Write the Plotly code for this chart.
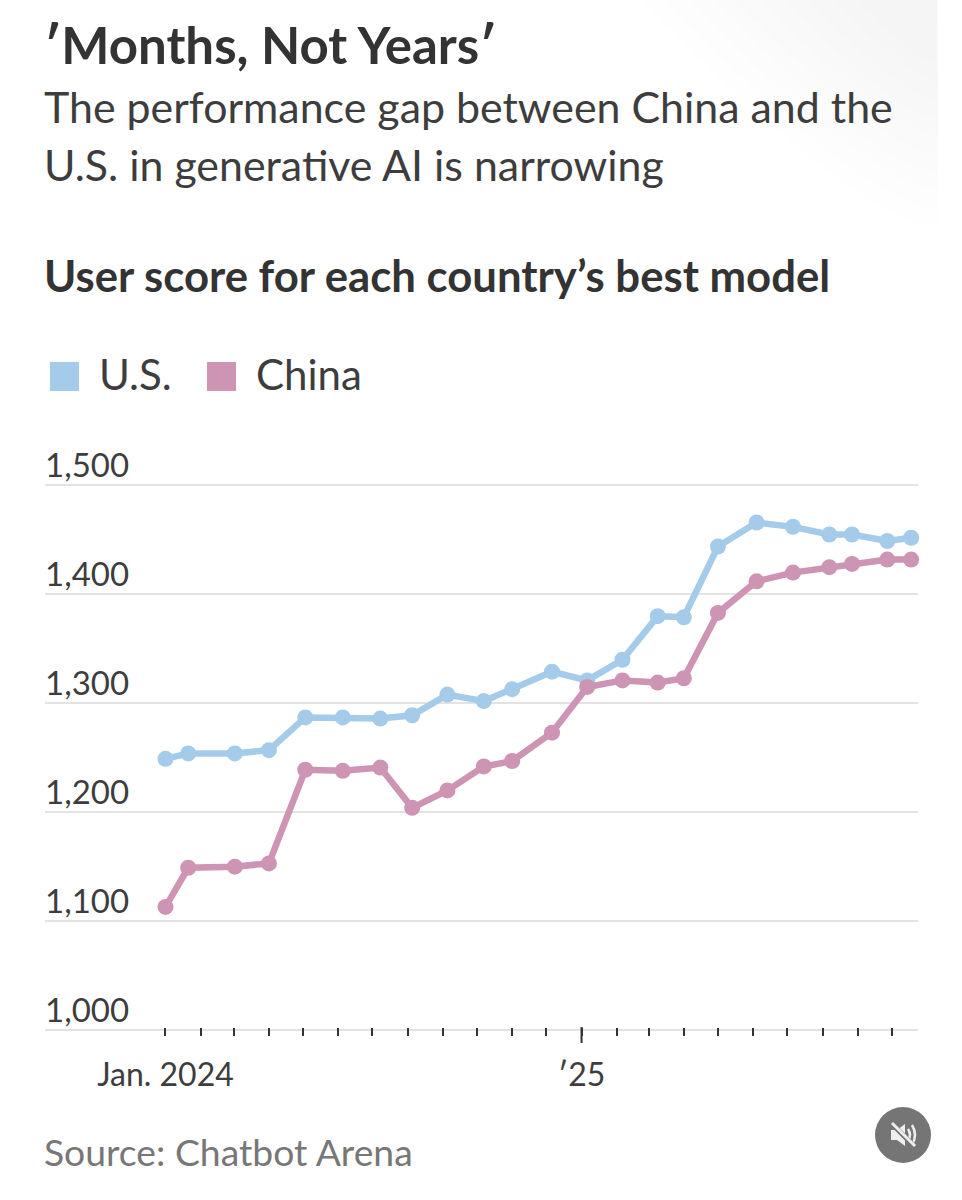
import plotly.graph_objects as go

W = 962
H = 1200
FONT = "Lato"

dates = ["2024-01-01", "2024-01-21", "2024-03-02", "2024-04-01", "2024-05-03", "2024-06-05",
         "2024-07-08", "2024-08-05", "2024-09-05", "2024-10-07", "2024-11-01", "2024-12-06",
         "2025-01-06", "2025-02-06", "2025-03-09", "2025-04-01", "2025-05-01", "2025-06-04",
         "2025-07-06", "2025-08-07", "2025-08-27", "2025-09-27", "2025-10-18"]
us = [1249, 1254, 1254, 1257, 1287, 1287, 1286, 1289, 1308, 1302, 1313, 1329,
      1321, 1340, 1380, 1379, 1444, 1466, 1462, 1455, 1455, 1449, 1452]
china = [1113, 1149, 1150, 1153, 1239, 1238, 1241, 1204, 1220, 1242, 1247, 1273,
         1315, 1321, 1319, 1323, 1383, 1412, 1420, 1425, 1428, 1432, 1432]

month_ticks = ["2024-%02d-01" % m for m in range(1, 13)] + ["2025-%02d-01" % m for m in range(1, 11)]
month_labels = ["Jan. 2024"] + [""] * 11 + ["\u203225"] + [""] * 9
y_ticks = [1000, 1100, 1200, 1300, 1400, 1500]
y_labels = ["1,000", "1,100", "1,200", "1,300", "1,400", "1,500"]

BLUE = "#a4cbea"
PINK = "#cd94b4"
TEXT = "#3d3d3d"


def px(x):
    return x / W


def py(y):
    return 1 - y / H


def label(text, x, y, size, color=TEXT, bold=False):
    if bold:
        text = "<b>%s</b>" % text
    return dict(text=text, x=px(x), y=py(y), xref="paper", yref="paper", xanchor="left", yanchor="middle",
                showarrow=False, font=dict(family=FONT, size=size, color=color))


def path(points):
    # points are page pixels, turned into paper coordinates
    out = ""
    for cmd, x, y in points:
        out += "%s %.5f %.5f " % (cmd, px(x), py(y))
    return out


def icon(points, **kw):
    return dict(type="path", xref="paper", yref="paper", path=path(points), **kw)


fig = go.Figure()
fig.add_trace(go.Scatter(x=dates, y=us, mode="lines+markers", name="U.S.", cliponaxis=False,
                         line=dict(color=BLUE, width=6.5), marker=dict(color=BLUE, size=16)))
fig.add_trace(go.Scatter(x=dates, y=china, mode="lines+markers", name="China", cliponaxis=False,
                         line=dict(color=PINK, width=6.5), marker=dict(color=PINK, size=16)))

# faint grey corner behind the header
shapes = []
for t in [1.0, 0.92, 0.84, 0.76, 0.68, 0.6, 0.52, 0.44, 0.36, 0.28]:
    rx = 300 * t
    ry = 227 * t
    shapes.append(dict(type="path", xref="paper", yref="paper", layer="below", line_width=0,
                       fillcolor="rgba(0,0,0,0.005)",
                       path="M %.5f %.5f L %.5f %.5f Q %.5f %.5f %.5f %.5f Z" % (
                           px(938), py(0), px(938 - rx), py(0), px(938 - rx * 0.25), py(ry), px(938), py(ry))))

shapes += [
    # long tick for the new year
    dict(type="line", xref="x", yref="paper", x0="2025-01-01", x1="2025-01-01",
         y0=py(1027), y1=py(1043), line=dict(color="#333333", width=2)),
    # legend squares
    dict(type="rect", xref="paper", yref="paper", x0=px(50), x1=px(79), y0=py(391), y1=py(362),
         fillcolor=BLUE, line_width=0),
    dict(type="rect", xref="paper", yref="paper", x0=px(207), x1=px(236), y0=py(391), y1=py(362),
         fillcolor=PINK, line_width=0),
    # mute button
    dict(type="circle", xref="paper", yref="paper", x0=px(875), x1=px(931), y0=py(1163), y1=py(1107),
         fillcolor="#757575", line_width=0),
    icon([("M", 891, 1130), ("L", 897, 1130), ("L", 905, 1124), ("L", 905, 1146), ("L", 897, 1140), ("L", 891, 1140)],
         fillcolor="#eeeeee", line_width=0),
    icon([("M", 908, 1129), ("Q", 912, 1135), ("", 908, 1141)], line=dict(color="#eeeeee", width=2.5)),
    icon([("M", 912, 1125), ("Q", 918, 1135), ("", 912, 1145)], line=dict(color="#eeeeee", width=2.5)),
    icon([("M", 892, 1124), ("L", 915, 1147)], line=dict(color="#757575", width=5)),
    icon([("M", 892, 1123), ("L", 915, 1146)], line=dict(color="#eeeeee", width=3)),
]

fig.update_layout(
    width=W, height=H,
    margin=dict(l=0, r=0, t=0, b=0),
    paper_bgcolor="white", plot_bgcolor="rgba(0,0,0,0)",
    showlegend=False,
    font=dict(family=FONT, color=TEXT),
    shapes=shapes,
    annotations=[
        label("\u2032Months, Not Years\u2032", 42, 45, 51, color="#333333", bold=True),
        label("The performance gap between China and the", 42, 107, 42.9),
        label("U.S. in generative AI is narrowing", 42, 165, 42.9),
        label("User score for each country\u2019s best model", 42, 275, 43.7, color="#333333", bold=True),
        label("U.S.", 97, 374, 42),
        label("China", 254, 374, 42),
        label("Source: Chatbot Arena", 42, 1151, 37.3, color="#777777"),
    ],
    xaxis=dict(
        domain=[px(45), px(918)],
        type="date",
        range=["2023-09-17", "2025-10-24"],
        anchor="free", position=py(1027),
        automargin=False,
        tickmode="array", tickvals=month_ticks, ticktext=month_labels,
        ticks="outside", ticklen=8, tickwidth=2, tickcolor="#333333",
        ticklabelstandoff=12,
        showgrid=False, zeroline=False,
        showline=False,
        tickfont=dict(family=FONT, size=32, color=TEXT),
    ),
    yaxis=dict(
        domain=[py(1032.2), py(483.3)],
        range=[998, 1502],
        automargin=False,
        tickmode="array", tickvals=y_ticks, ticktext=y_labels,
        ticks="",
        ticklabelposition="inside", ticklabelshift=-20, ticklabeloverflow="allow",
        ticklabelstandoff=-3,
        showgrid=True, gridcolor="#e3e3e3", gridwidth=2,
        zeroline=False, showline=False,
        tickfont=dict(family=FONT, size=33, color=TEXT),
    ),
)

fig.write_html("out.html", config=dict(displayModeBar=False), post_script="document.body.style.margin='0';")
